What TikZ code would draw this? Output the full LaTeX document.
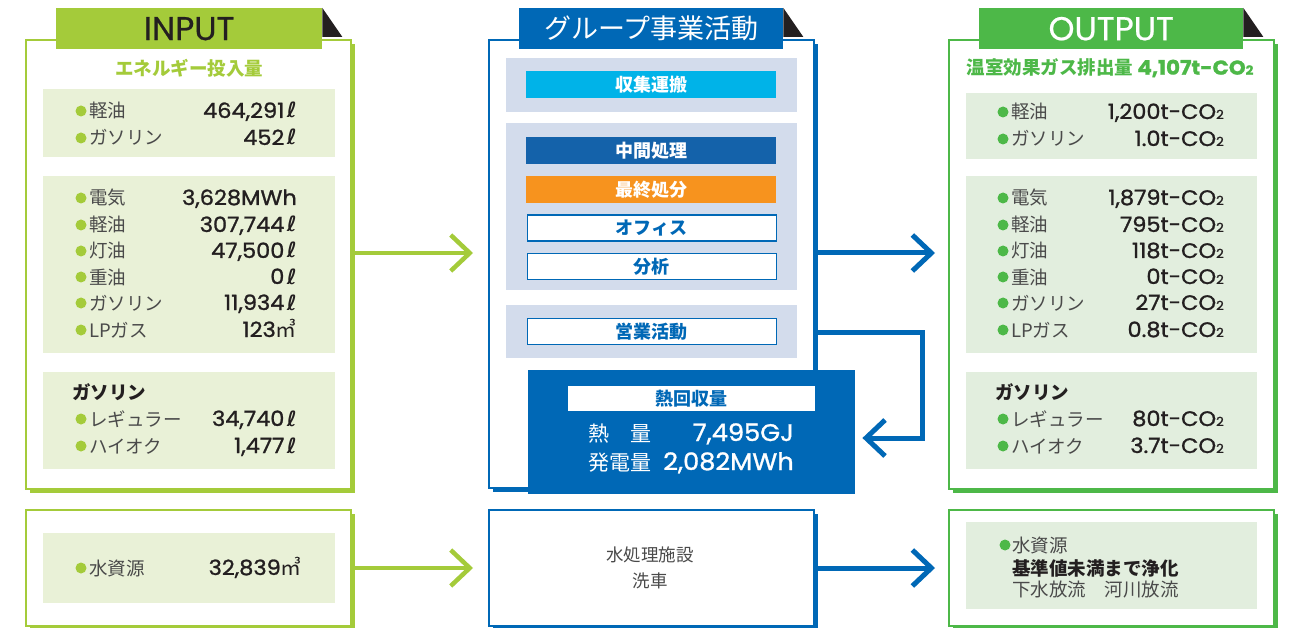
\documentclass[tikz,border=0pt]{standalone}
\usepackage{fontspec}
\setmainfont{Noto Sans CJK JP}
\newfontfamily\cjk{Noto Sans CJK JP}
\newfontfamily\pop[FakeBold=1.2,FakeStretch=1.07]{Poppins}
\newfontfamily\popt[FakeBold=0.6]{Poppins}
\newfontfamily\dv{DejaVu Sans}
\usetikzlibrary{arrows.meta,shadows}
\definecolor{gA}{HTML}{A4CB3A}
\definecolor{lgA}{HTML}{E9F1D7}
\definecolor{gB}{HTML}{4DB848}
\definecolor{lgB}{HTML}{E2EEDE}
\definecolor{bl}{HTML}{0068B6}
\definecolor{gbl}{HTML}{D3DCEC}
\definecolor{cy}{HTML}{00B3E8}
\definecolor{dbl}{HTML}{1462AA}
\definecolor{og}{HTML}{F7931E}
\definecolor{ink}{HTML}{231F20}
\definecolor{lab}{HTML}{4A4A4A}
\newcommand\Ltr{\hspace{2.5pt}{\dv\bfseries\itshape ℓ}}
\newcommand\Cot{t-CO{\fontsize{12.5}{12}\selectfont 2}}
\newcommand\Mcube{{\cjk ㎥}}
\begin{document}
\begin{tikzpicture}[x=1pt,y=-1pt,
 panelA/.style={draw=gA, line width=2pt, fill=white, anchor=north west, inner sep=0pt, general shadow={fill=gA, shadow xshift=4pt, shadow yshift=-4pt}},
 panelB/.style={draw=bl, line width=2pt, fill=white, anchor=north west, inner sep=0pt, general shadow={fill=bl, shadow xshift=4pt, shadow yshift=-4pt}},
 panelC/.style={draw=gB, line width=2pt, fill=white, anchor=north west, inner sep=0pt, general shadow={fill=gB, shadow xshift=4pt, shadow yshift=-4pt}},
 tab/.style={anchor=north west, minimum height=41pt, inner sep=0pt},
 tri/.style={fill=ink},
 box/.style={anchor=north west, inner sep=0pt},
 dotA/.style={circle, fill=gA, minimum size=11pt, inner sep=0pt},
 dotC/.style={circle, fill=gB, minimum size=11pt, inner sep=0pt},
 lbl/.style={anchor=base west, inner sep=0pt, text=lab, font=\cjk\fontsize{18.5}{20}\selectfont},
 val/.style={anchor=base east, inner sep=0pt, text=ink, font=\pop\fontsize{21}{22}\selectfont},
 subh/.style={anchor=base west, inner sep=0pt, text=ink, font=\cjk\bfseries\fontsize{18.5}{20}\selectfont},
 head/.style={inner sep=0pt, font=\cjk\bfseries\fontsize{18.5}{20}\selectfont},
 bar/.style={anchor=north west, minimum width=250pt, minimum height=27pt, inner sep=0pt, font=\cjk\bfseries\fontsize{18}{20}\selectfont},
 wbar/.style={bar, fill=white, draw=bl, line width=1.3pt, text=bl, minimum width=249pt, minimum height=26pt},
 garr/.style={draw=gA, line width=4.5pt, -{Straight Barb[length=19pt,width=36pt]}},
 barr/.style={draw=bl, line width=5pt, -{Straight Barb[length=19pt,width=36pt]}},
 heatlbl/.style={anchor=base west, inner sep=0pt, text=white, font=\cjk\fontsize{21}{22}\selectfont},
 heatval/.style={anchor=base east, inner sep=0pt, text=white, font=\pop\fontsize{24}{26}\selectfont}
]
\useasboundingbox (0,0) rectangle (1290,628);

% ---------- panels ----------
\node[panelA, minimum width=325pt, minimum height=449pt] (inP) at (25,39) {};
\node[panelB, minimum width=325pt, minimum height=448pt] (midP) at (488,39) {};
\node[panelC, minimum width=325pt, minimum height=449pt] (outP) at (948,39) {};
\node[panelA, minimum width=325pt, minimum height=116pt] (inW) at (25,509) {};
\node[panelB, minimum width=325pt, minimum height=116pt] (midW) at (488,509) {};
\node[panelC, minimum width=325pt, minimum height=116pt] (outW) at (948,509) {};

% ---------- tabs ----------
\node[tab, fill=gA, text=ink, minimum width=266pt, font=\popt\fontsize{33}{33}\selectfont] (tabI) at (56,8) {INPUT};
\fill[tri] (tabI.north east) -- ++(0,29) -- ++(20,0) -- cycle;
\node[tab, fill=bl, text=white, minimum width=264pt, font=\cjk\fontsize{27}{28}\selectfont] (tabM) at (519,8) {グループ事業活動};
\fill[tri] (tabM.north east) -- ++(0,29) -- ++(20,0) -- cycle;
\node[tab, fill=gB, text=white, minimum width=264pt, font=\popt\fontsize{33}{33}\selectfont] (tabO) at (979,8) {OUTPUT};
\fill[tri] (tabO.north east) -- ++(0,29) -- ++(20,0) -- cycle;

% ---------- INPUT ----------
\node[head, text=gA] (inH) at (189,68) {エネルギー投入量};
\node[box, fill=lgA, minimum width=292pt, minimum height=68pt] (ib1) at (43,89) {};
\node[box, fill=lgA, minimum width=292pt, minimum height=177pt] (ib2) at (43,176) {};
\node[box, fill=lgA, minimum width=292pt, minimum height=97pt] (ib3) at (43,372) {};
\foreach \y/\l/\v [count=\i] in {111/軽油/{464,291\Ltr},138/ガソリン/{452\Ltr},
  198/電気/{3,628MWh\hspace{-4pt}},225/軽油/{307,744\Ltr},251/灯油/{47,500\Ltr},277/重油/{0\Ltr},303/ガソリン/{11,934\Ltr},330/LPガス/{123\Mcube\hspace{-2pt}},
  419/レギュラー/{34,740\Ltr},446/ハイオク/{1,477\Ltr}} {
  \node[dotA] (ind\i) at (81,\y) {};
  \node[lbl] (inl\i) at (89,\y+7) {\l};
  \node[val] (inv\i) at (297,\y+7) {\v};
}
\node[subh] (inS) at (72,399) {ガソリン};

% water input
\node[box, fill=lgA, minimum width=292pt, minimum height=70pt] (iwb) at (43,533) {};
\node[dotA] (iwd) at (81,568) {};
\node[lbl] (iwl) at (89,575) {水資源};
\node[val] (iwv) at (302,575) {32,839\Mcube};

% ---------- MIDDLE ----------
\node[box, fill=gbl, minimum width=291pt, minimum height=54pt] (mb1) at (506,58) {};
\node[box, fill=gbl, minimum width=291pt, minimum height=167pt] (mb2) at (506,123) {};
\node[box, fill=gbl, minimum width=291pt, minimum height=53pt] (mb3) at (506,305) {};
\node[bar, fill=cy, text=white] (b1) at (526,71) {収集運搬};
\node[bar, fill=dbl, text=white] (b2) at (526,137) {中間処理};
\node[bar, fill=og, text=white] (b3) at (526,176) {最終処分};
\node[wbar] (b4) at (526.5,214.5) {オフィス};
\node[wbar] (b5) at (526.5,253) {分析};
\node[wbar] (b6) at (526.5,318) {営業活動};

\node[box, fill=bl, minimum width=327pt, minimum height=124pt] (heat) at (528,370) {};
\node[box, fill=white, text=bl, minimum width=247pt, minimum height=25pt, font=\cjk\bfseries\fontsize{18}{20}\selectfont] (heatT) at (568,386) {熱回収量};
\node[heatlbl] (h1l) at (588,441) {熱　量};
\node[heatval] (h1v) at (794,441) {7,495GJ};
\node[heatlbl] (h2l) at (588,470) {発電量};
\node[heatval] (h2v) at (794,470) {2,082MWh};

\node[inner sep=0pt, text=lab, font=\cjk\fontsize{17.5}{20}\selectfont] (mw1) at (650,555) {水処理施設};
\node[inner sep=0pt, text=lab, font=\cjk\fontsize{17.5}{20}\selectfont] (mw2) at (650,581) {洗車};

% ---------- OUTPUT ----------
\node[head, text=gB] (outH) at (1110,68) {温室効果ガス排出量 {\pop\fontsize{20}{20}\selectfont 4,107\Cot}};
\node[box, fill=lgB, minimum width=291pt, minimum height=66pt] (ob1) at (966,93) {};
\node[box, fill=lgB, minimum width=291pt, minimum height=177pt] (ob2) at (966,176) {};
\node[box, fill=lgB, minimum width=291pt, minimum height=97pt] (ob3) at (966,372) {};
\foreach \y/\l/\v [count=\i] in {112/軽油/{1,200\Cot},139/ガソリン/{1.0\Cot},
  198/電気/{1,879\Cot},225/軽油/{795\Cot},251/灯油/{118\Cot},277/重油/{0\Cot},303/ガソリン/{27\Cot},330/LPガス/{0.8\Cot},
  419/レギュラー/{80\Cot},446/ハイオク/{3.7\Cot}} {
  \node[dotC] (outd\i) at (1003,\y) {};
  \node[lbl] (outl\i) at (1011,\y+7) {\l};
  \node[val] (outv\i) at (1224,\y+7) {\v};
}
\node[subh] (outS) at (995,399) {ガソリン};

\node[box, fill=lgB, minimum width=291pt, minimum height=87pt] (owb) at (966,522) {};
\node[dotC] (owd) at (1005,545) {};
\node[lbl] (owl1) at (1012,552) {水資源};
\node[subh] (owl2) at (1012,575) {基準値未満まで浄化};
\node[lbl] (owl3) at (1012,596) {下水放流　河川放流};

% ---------- connectors ----------
\coordinate (yA) at (0,253);
\coordinate (yB) at (0,568);
\coordinate (turn) at (922,332);
\coordinate (hy) at (0,438);
\draw[garr, shorten >=15pt] (inP.east |- yA) -- (midP.west |- yA);
\draw[barr, shorten >=13pt] (midP.east |- yA) -- (outP.west |- yA);
\draw[barr, shorten >=7pt] (midP.east |- turn) -- (turn) |- (heat.east |- hy);
\draw[garr, shorten >=15pt] (inW.east |- yB) -- (midW.west |- yB);
\draw[barr, shorten >=13pt] (midW.east |- yB) -- (outW.west |- yB);
\end{tikzpicture}
\end{document}
